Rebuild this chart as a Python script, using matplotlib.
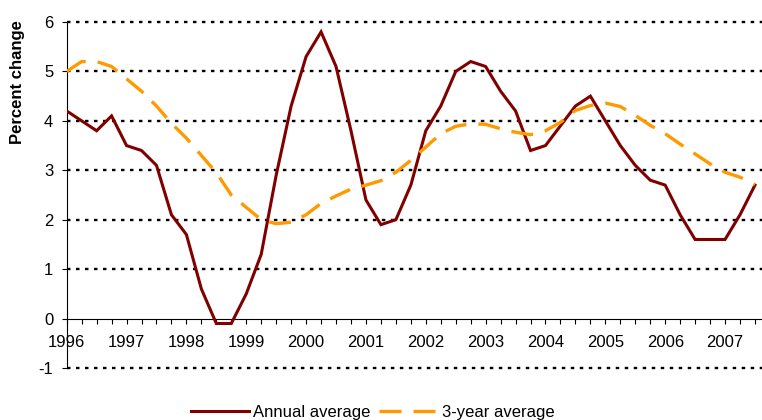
import numpy as np
import matplotlib
matplotlib.use("Agg")
import matplotlib.pyplot as plt

plt.rcParams['font.family'] = ['Liberation Sans', 'DejaVu Sans']
plt.rcParams['axes.unicode_minus'] = False

# Quarterly data, 1996 Q1 .. 2007 Q3
annual = [4.2, 4.0, 3.8, 4.1, 3.5, 3.4, 3.1, 2.1, 1.7, 0.6, -0.1, -0.1,
          0.5, 1.3, 2.9, 4.3, 5.3, 5.8, 5.1, 3.8, 2.4, 1.9, 2.0, 2.7,
          3.8, 4.3, 5.0, 5.2, 5.1, 4.6, 4.2, 3.4, 3.5, 3.9, 4.3, 4.5,
          4.0, 3.5, 3.1, 2.8, 2.7, 2.1, 1.6, 1.6, 1.6, 2.1, 2.7]
three_year = [5.0, 5.2, 5.2, 5.1, 4.85, 4.6, 4.3, 3.95, 3.65, 3.3, 2.95, 2.5,
              2.25, 2.0, 1.92, 1.95, 2.1, 2.33, 2.48, 2.62, 2.7, 2.79, 2.96, 3.2,
              3.47, 3.74, 3.89, 3.94, 3.93, 3.84, 3.77, 3.72, 3.8, 3.97, 4.21, 4.31,
              4.36, 4.29, 4.11, 3.91, 3.74, 3.53, 3.33, 3.13, 2.96, 2.86, 2.71]
years = ['1996', '1997', '1998', '1999', '2000', '2001', '2002', '2003',
         '2004', '2005', '2006', '2007']
yticks = [-1, 0, 1, 2, 3, 4, 5, 6]

W, H = 762, 420
FS = 12
fig = plt.figure(figsize=(W / 100, H / 100), dpi=100)
left, right, top, bottom = 66.7, 762, 22, 368
ax = fig.add_axes([left / W, 1 - bottom / H, (right - left) / W, (bottom - top) / H])

x = np.arange(len(annual))
l1, = ax.plot(x, annual, color='#800000', lw=2.2, label='Annual average',
              solid_joinstyle='miter', zorder=3)
l2, = ax.plot(x, three_year, color='#FF9900', lw=2.4, ls=(0, (6.6, 3.6)),
              label='3-year average', zorder=4)

ax.set_xlim(0, 46.47)
ax.set_ylim(-1, 6)

ax.spines['top'].set_visible(False)
ax.spines['right'].set_visible(False)
ax.spines['bottom'].set_position(('data', 0))
ax.spines['bottom'].set_linewidth(0.8)
ax.spines['left'].set_linewidth(0.8)

ax.set_xticks(x)
ax.set_xticklabels([years[i // 4] if i % 4 == 0 else '' for i in x])
ax.set_yticks(yticks)
ax.set_yticklabels([str(v) for v in yticks])
ax.tick_params(axis='x', direction='out', length=3.6, width=0.8, pad=8.5,
               labelsize=FS, colors='black')
ax.tick_params(axis='y', direction='out', length=3.6, width=0.8, pad=6,
               labelsize=FS, colors='black')

ax.grid(axis='y', color='black', lw=1.7, ls=(0, (1.48, 2.33)))
ax.set_axisbelow(True)
for val, gl in zip(ax.get_yticks(), ax.yaxis.get_gridlines()):
    gl.set_clip_on(False)
    if val == 0:
        gl.set_visible(False)

fig.text(18 / W, 1 - 82 / H, 'Percent change', rotation=90, ha='center',
         va='center', fontsize=FS, fontweight='bold')

fig.legend(handles=[l1, l2], loc='center', bbox_to_anchor=(372.5 / W, 1 - 412 / H),
           ncol=2, frameon=False, fontsize=FS, handlelength=3.5,
           handletextpad=0.25, columnspacing=0.5, borderpad=0, borderaxespad=0)

fig.savefig('out.png', dpi=100)
